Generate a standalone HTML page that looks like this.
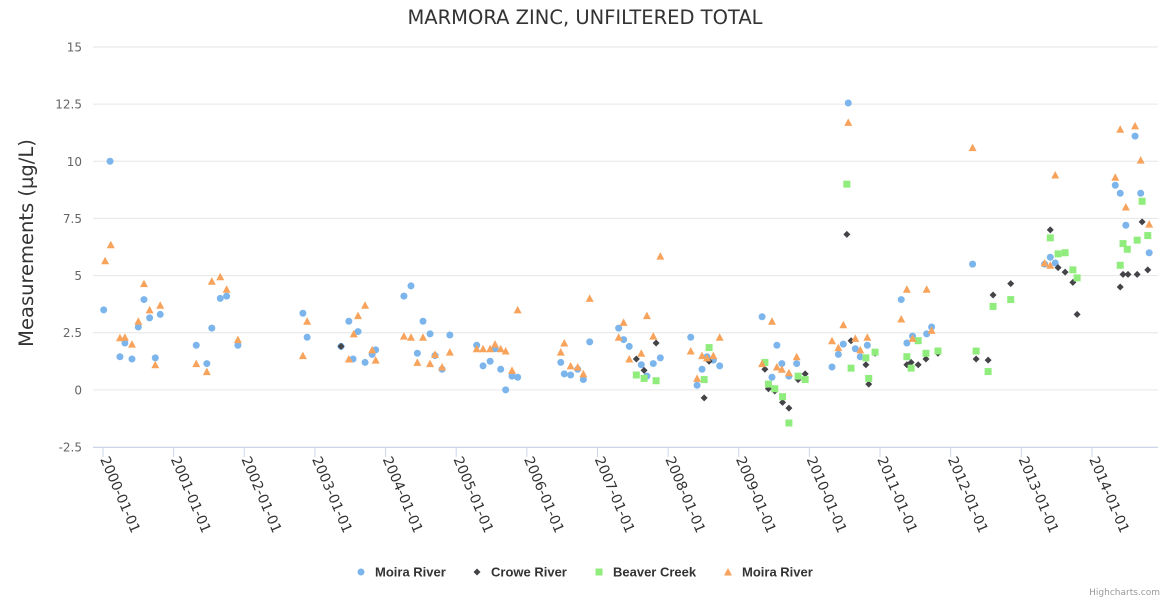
<!DOCTYPE html>
<html><head><meta charset="utf-8"><style>
html,body{margin:0;padding:0;background:#fff;}
svg{display:block;font-family:"DejaVu Sans","Liberation Sans",sans-serif;}
</style></head><body>
<svg id="chart" width="1170" height="600" viewBox="0 0 1170 600">
<text x="585" y="24" text-anchor="middle" font-size="19.5" fill="#333">MARMORA ZINC, UNFILTERED TOTAL</text>
<text transform="translate(33,243) rotate(-90)" text-anchor="middle" font-size="19.5" fill="#333">Measurements (µg/L)</text>
<g id="grid"></g><g id="xaxis"></g><g id="marks"></g>
<g id="legend" font-size="13" font-weight="bold" fill="#333" font-family="Liberation Sans, sans-serif">
<g><circle cx="361" cy="572" r="3.5" fill="#7cb5ec"/><text x="375" y="576.5">Moira River</text></g>
<g><path d="M477 568.5 L480.5 572 L477 575.5 L473.5 572Z" fill="#434348"/><text x="491" y="576.5">Crowe River</text></g>
<g><rect x="595.5" y="568.5" width="7" height="7" fill="#90ed7d"/><text x="613" y="576.5">Beaver Creek</text></g>
<g><path d="M728 568 L732 575.5 L724 575.5Z" fill="#f7a35c"/><text x="742" y="576.5">Moira River</text></g>
</g>
<text x="1160" y="595" text-anchor="end" font-size="9" fill="#999">Highcharts.com</text>
</svg>
<script>
const yTicks = [-2.5, 0, 2.5, 5, 7.5, 10, 12.5, 15];
const yTickLabels = ["-2.5", "0", "2.5", "5", "7.5", "10", "12.5", "15"];
const xTickYears = [2000,2001,2002,2003,2004,2005,2006,2007,2008,2009,2010,2011,2012,2013,2014];
const xTickLabels = xTickYears.map(y => y + "-01-01");

const moiraX = [2000.01,2000.1,2000.24,2000.31,2000.41,2000.5,2000.58,2000.66,2000.74,2000.81,2001.32,2001.47,2001.54,2001.66,2001.75,2001.91,2002.83,2002.89,2003.37,2003.48,2003.54,2003.61,2003.71,2003.81,2003.86,2004.26,2004.36,2004.45,2004.53,2004.63,2004.7,2004.8,2004.91,2005.29,2005.38,2005.48,2005.55,2005.63,2005.7,2005.79,2005.87,2006.48,2006.53,2006.62,2006.72,2006.8,2006.89,2007.3,2007.37,2007.45,2007.62,2007.7,2007.79,2007.89,2008.32,2008.41,2008.48,2008.55,2008.64,2008.73,2009.33,2009.47,2009.54,2009.61,2009.71,2009.82,2010.32,2010.41,2010.48,2010.55,2010.65,2010.72,2010.82,2011.3,2011.38,2011.46,2011.66,2011.73,2012.31,2013.33,2013.41,2013.48,2014.33,2014.4,2014.48,2014.61,2014.69,2014.81];
const moiraY = [3.5,10.0,1.45,2.05,1.35,2.75,3.95,3.15,1.4,3.3,1.95,1.15,2.7,4.0,4.1,1.95,3.35,2.3,1.9,3.0,1.35,2.55,1.2,1.55,1.75,4.1,4.55,1.6,3.0,2.45,1.5,0.9,2.4,1.95,1.05,1.25,1.8,0.9,0.0,0.6,0.55,1.2,0.7,0.65,0.9,0.45,2.1,2.7,2.2,1.9,1.1,0.6,1.15,1.4,2.3,0.2,0.9,1.45,1.3,1.05,3.2,0.55,1.95,1.15,0.6,1.15,1.0,1.55,2.0,12.55,1.8,1.45,1.95,3.95,2.05,2.35,2.45,2.75,5.5,5.5,5.8,5.55,8.95,8.6,7.2,11.1,8.6,6.0];

const croweX = [2003.37,2007.55,2007.66,2007.83,2008.51,2008.58,2009.37,2009.42,2009.51,2009.62,2009.71,2009.84,2009.94,2010.53,2010.59,2010.8,2010.84,2010.93,2011.38,2011.44,2011.54,2011.65,2011.82,2012.36,2012.53,2012.6,2012.85,2013.41,2013.52,2013.62,2013.73,2013.79,2014.4,2014.44,2014.51,2014.64,2014.71,2014.79];
const croweY = [1.9,1.35,0.85,2.05,-0.35,1.25,0.9,0.05,-0.05,-0.55,-0.8,0.45,0.7,6.8,2.15,1.1,0.25,1.6,1.1,1.2,1.1,1.35,1.6,1.35,1.3,4.15,4.65,7.0,5.35,5.15,4.7,3.3,4.5,5.05,5.05,5.05,7.35,5.25];

const beaverX = [2007.55,2007.66,2007.83,2008.51,2008.58,2009.37,2009.42,2009.51,2009.62,2009.71,2009.84,2009.94,2010.53,2010.59,2010.8,2010.84,2010.93,2011.38,2011.44,2011.54,2011.65,2011.82,2012.36,2012.53,2012.6,2012.85,2013.41,2013.52,2013.62,2013.73,2013.79,2014.4,2014.44,2014.5,2014.64,2014.71,2014.79];
const beaverY = [0.65,0.5,0.4,0.45,1.85,1.2,0.25,0.05,-0.3,-1.45,0.6,0.45,9.0,0.95,1.4,0.5,1.65,1.45,0.95,2.15,1.6,1.7,1.7,0.8,3.65,3.95,6.65,5.95,6.0,5.25,4.9,5.45,6.4,6.15,6.55,8.25,6.75];

const moira2X = [2000.03,2000.11,2000.24,2000.31,2000.41,2000.5,2000.58,2000.66,2000.74,2000.81,2001.32,2001.47,2001.54,2001.66,2001.75,2001.91,2002.83,2002.89,2003.48,2003.55,2003.61,2003.71,2003.81,2003.86,2004.26,2004.36,2004.45,2004.53,2004.63,2004.7,2004.8,2004.91,2005.29,2005.38,2005.48,2005.55,2005.63,2005.7,2005.79,2005.87,2006.48,2006.53,2006.62,2006.72,2006.8,2006.89,2007.3,2007.37,2007.45,2007.62,2007.7,2007.79,2007.89,2008.32,2008.41,2008.48,2008.55,2008.64,2008.73,2009.33,2009.47,2009.54,2009.61,2009.71,2009.82,2010.32,2010.41,2010.48,2010.55,2010.65,2010.72,2010.82,2011.3,2011.38,2011.46,2011.66,2011.73,2012.31,2013.33,2013.41,2013.48,2014.33,2014.4,2014.48,2014.61,2014.69,2014.81];
const moira2Y = [5.65,6.35,2.28,2.3,2.0,3.0,4.65,3.5,1.1,3.7,1.15,0.8,4.75,4.95,4.4,2.2,1.5,3.0,1.35,2.45,3.25,3.7,1.75,1.3,2.35,2.3,1.2,2.3,1.15,1.55,1.0,1.65,1.8,1.8,1.8,2.0,1.8,1.7,0.85,3.5,1.65,2.05,1.05,1.0,0.7,4.0,2.3,2.95,1.35,1.6,3.25,2.35,5.85,1.7,0.5,1.5,1.4,1.5,2.3,1.15,3.0,1.0,0.9,0.75,1.45,2.15,1.85,2.85,11.7,2.25,1.75,2.3,3.1,4.4,2.25,4.4,2.6,10.6,5.55,5.45,9.4,9.3,11.4,8.0,11.55,10.05,7.25];

const L = 93, R = 1158, T = 47, B = 447;
const yMin = -2.5, yMax = 15;
function yS(v){ return B - (v - yMin) / (yMax - yMin) * (B - T); }
function xS(yr){ return 103 + (yr - 2000) * 70.64; }
const NS = "http://www.w3.org/2000/svg";
function mk(tag, attrs, parent){ const e = document.createElementNS(NS, tag); for (const k in attrs) e.setAttribute(k, attrs[k]); parent.appendChild(e); return e; }

const grid = document.getElementById('grid');
yTicks.forEach((v, i) => {
  const ln = mk('line', {x1:L, x2:R, y1:yS(v), y2:yS(v), stroke:'#e6e6e6', 'stroke-width':1}, grid);
  
  
  const t = mk('text', {x:82, y:yS(v)+4.5, 'text-anchor':'end', 'font-size':12, fill:'#666'}, grid);
  t.textContent = yTickLabels[i];
  
  
});
const xa = document.getElementById('xaxis');
const axl = mk('line', {x1:L, x2:R, y1:B+0.5, y2:B+0.5, stroke:'#ccd6eb', 'stroke-width':1}, xa);


xTickYears.forEach((yr, i) => {
  const x = xS(yr);
  const tk = mk('line', {x1:x, x2:x, y1:B, y2:B+10, stroke:'#ccd6eb', 'stroke-width':1}, xa);
  
  
  const t = mk('text', {transform:`translate(${x-3},${B+12}) rotate(67)`, 'font-size':14, fill:'#333'}, xa);
  t.textContent = xTickLabels[i];
  
  
});
const g = document.getElementById('marks');
moiraX.forEach((xv, i) => {
  const c = mk('circle', {cx:xS(xv), cy:yS(moiraY[i]), r:3.5, fill:'#7cb5ec'}, g);
  
  
});
croweX.forEach((xv, i) => {
  const x = xS(xv), y = yS(croweY[i]);
  const p = mk('path', {d:`M${x} ${y-3.5} L${x+3.5} ${y} L${x} ${y+3.5} L${x-3.5} ${y}Z`, fill:'#434348'}, g);
  
  
});
beaverX.forEach((xv, i) => {
  const r = mk('rect', {x:xS(xv)-3.5, y:yS(beaverY[i])-3.5, width:7, height:7, fill:'#90ed7d'}, g);
  
  
});
moira2X.forEach((xv, i) => {
  const x = xS(xv), y = yS(moira2Y[i]);
  const p = mk('path', {d:`M${x} ${y-4} L${x+4} ${y+3.5} L${x-4} ${y+3.5}Z`, fill:'#f7a35c'}, g);
  
  
});
</script>
</body></html>
